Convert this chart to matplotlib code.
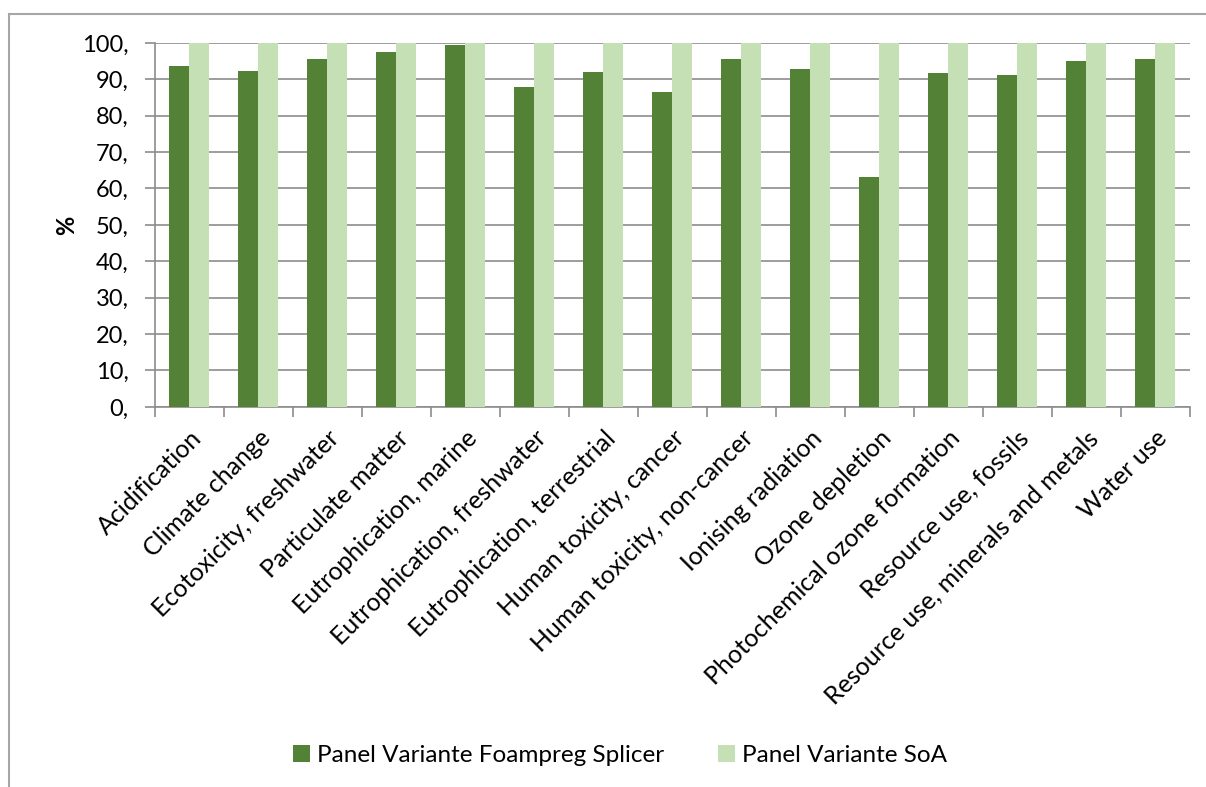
import numpy as np
import matplotlib
matplotlib.use('Agg')
import matplotlib.pyplot as plt
from matplotlib.patches import Rectangle

categories = ['Acidification', 'Climate change', 'Ecotoxicity, freshwater',
              'Particulate matter', 'Eutrophication, marine',
              'Eutrophication, freshwater', 'Eutrophication, terrestrial',
              'Human toxicity, cancer', 'Human toxicity, non-cancer',
              'Ionising radiation', 'Ozone depletion',
              'Photochemical ozone formation', 'Resource use, fossils',
              'Resource use, minerals and metals', 'Water use']
splicer = [93.6, 92.3, 95.5, 97.4, 99.4, 88.0, 92.1, 86.5, 95.7, 92.7,
           63.2, 91.8, 91.1, 95.0, 95.5]
soa = [100] * 15
series_names = ['Panel Variante Foampreg Splicer', 'Panel Variante SoA']
yticks = [0, 10, 20, 30, 40, 50, 60, 70, 80, 90, 100]

plt.rcParams['font.family'] = ['Lato', 'DejaVu Sans']

fig = plt.figure(figsize=(12.06, 7.87), dpi=100)
ax = fig.add_axes([0.1285, 0.483, 0.858, 0.4625])

ind = np.arange(len(categories))
width = 0.29
b1 = ax.bar(ind - width / 2, splicer, width, color='#538135', zorder=3)
b2 = ax.bar(ind + width / 2, soa, width, color='#c5e0b4', zorder=3)

ax.set_xlim(-0.5, len(categories) - 0.5)
ax.set_ylim(0, 100)
ax.set_yticks(yticks)
ax.set_yticklabels([f'{v},' for v in yticks], fontsize=17)
ax.yaxis.grid(True, color='#8c8c8c', linewidth=1.2, zorder=0)
ax.set_axisbelow(True)

# category boundaries get the tick marks, labels sit at the centres
ax.set_xticks(np.arange(len(categories) + 1) - 0.5)
ax.set_xticklabels([])
ax.set_xticks(ind, minor=True)
ax.set_xticklabels(categories, minor=True, rotation=45, ha='right',
                   rotation_mode='anchor', fontsize=18)
ax.tick_params(axis='x', which='minor', length=0, pad=14)
ax.tick_params(axis='x', which='major', length=7, color='#8c8c8c', width=1.2)
ax.tick_params(axis='y', length=7, color='#8c8c8c', width=1.2, pad=12)

for s in ['top', 'right']:
    ax.spines[s].set_visible(False)
for s in ['left', 'bottom']:
    ax.spines[s].set_color('#8c8c8c')
    ax.spines[s].set_linewidth(1.2)

ax.set_ylabel('%', fontsize=17, fontweight='bold', labelpad=3)

fig.legend((b1, b2), series_names, loc='center', bbox_to_anchor=(0.514, 0.04),
           ncol=2, frameon=False, fontsize=17.5, handlelength=0.7,
           handleheight=0.7, columnspacing=2.2, handletextpad=0.3)

fig.patches.append(Rectangle((9 / 1206, -0.01), 1.05, 0.9922,
                             transform=fig.transFigure, fill=False,
                             edgecolor='#a6a6a6', linewidth=1.5))

fig.savefig('out.png', dpi=100)
